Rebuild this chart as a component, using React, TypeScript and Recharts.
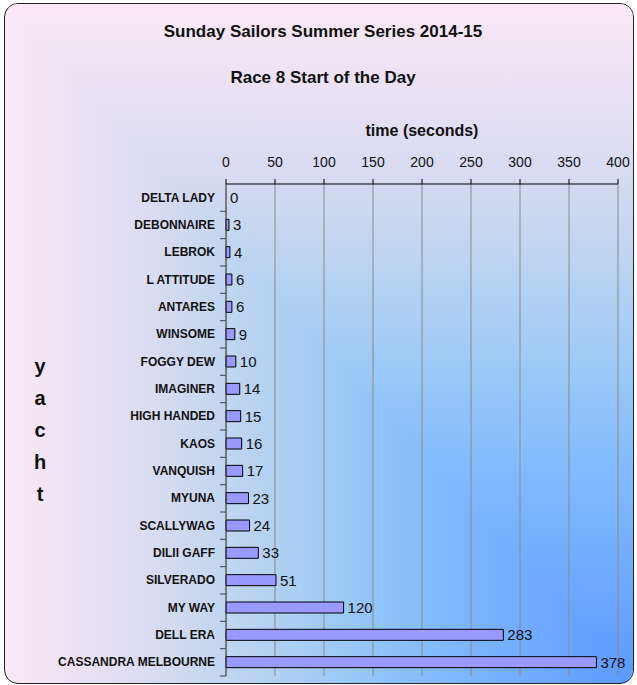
import React from 'react';
import {
  ComposedChart,
  Bar,
  Line,
  XAxis,
  YAxis,
  CartesianGrid,
  LabelList,
} from 'recharts';

const yachts = [
  'DELTA LADY',
  'DEBONNAIRE',
  'LEBROK',
  'L ATTITUDE',
  'ANTARES',
  'WINSOME',
  'FOGGY DEW',
  'IMAGINER',
  'HIGH HANDED',
  'KAOS',
  'VANQUISH',
  'MYUNA',
  'SCALLYWAG',
  'DILII GAFF',
  'SILVERADO',
  'MY WAY',
  'DELL ERA',
  'CASSANDRA MELBOURNE',
];
const startSeconds = [0, 3, 4, 6, 6, 9, 10, 14, 15, 16, 17, 23, 24, 33, 51, 120, 283, 378];
const timeTicks = [0, 50, 100, 150, 200, 250, 300, 350, 400];

const data = yachts.map((name, i) => ({ name, time: startSeconds[i] }));

const FONT = '"Liberation Sans", Arial, sans-serif';
const W = 637;
const H = 685;
const PLOT_LEFT = 226;
const PLOT_TOP = 184;
const PLOT_BOTTOM = 676;
const ROW = (PLOT_BOTTOM - PLOT_TOP) / yachts.length;

// colour runs from the bottom-right corner (blue) out to the edges (pink)
const STOPS =
  '#5b9aff 0%, #86bdfc 34%, #9fcaf5 48%, #c2d6f0 65%, #dcdcf2 78%, #fce8f7 100%';

function YachtTick(props: any) {
  const { x, y, payload } = props;
  return (
    <g>
      <text
        x={x}
        y={y}
        dy={4}
        textAnchor="end"
        fontFamily={FONT}
        fontSize={12}
        fontWeight="bold"
        fill="#111"
      >
        {payload.value}
      </text>
      <line
        x1={PLOT_LEFT - 6}
        x2={PLOT_LEFT}
        y1={y + ROW / 2}
        y2={y + ROW / 2}
        stroke="#444"
      />
    </g>
  );
}

export default function App() {
  return (
    <div style={{ position: 'relative', width: W, height: H, fontFamily: FONT }}>
      <style>{`body{margin:0}`}</style>
      <div
        style={{
          position: 'absolute',
          left: 4,
          top: 3,
          width: 630,
          height: 681,
          boxSizing: 'border-box',
          border: '1.5px solid #222',
          borderRadius: 14,
          overflow: 'hidden',
          background: `linear-gradient(to left, ${STOPS})`,
        }}
      >
        <div
          style={{
            position: 'absolute',
            inset: 0,
            background: `linear-gradient(to top, ${STOPS})`,
            clipPath: 'polygon(0 0, 100% 0, 100% 100%)',
          }}
        />
      </div>

      <div style={{ position: 'absolute', left: 0, width: 646, top: 22, textAlign: 'center', fontSize: 17, fontWeight: 'bold', color: '#111' }}>
        Sunday Sailors Summer Series 2014-15
      </div>
      <div style={{ position: 'absolute', left: 0, width: 646, top: 68, textAlign: 'center', fontSize: 17, fontWeight: 'bold', color: '#111' }}>
        Race 8 Start of the Day
      </div>
      <div style={{ position: 'absolute', left: PLOT_LEFT, width: 392, top: 122, textAlign: 'center', fontSize: 16, fontWeight: 'bold', color: '#111' }}>
        time (seconds)
      </div>
      <div style={{ position: 'absolute', left: 28, width: 24, top: 350, textAlign: 'center', fontSize: 20, fontWeight: 'bold', lineHeight: '32px', color: '#111' }}>
        {'yacht'.split('').map((c, i) => (
          <div key={i}>{c}</div>
        ))}
      </div>

      <div style={{ position: 'absolute', left: 0, top: 0 }}>
        <ComposedChart
          width={W}
          height={H}
          data={data}
          layout="vertical"
          margin={{ top: PLOT_TOP - 30, right: 19, left: 0, bottom: H - PLOT_BOTTOM }}
        >
          <CartesianGrid horizontal={false} stroke="#8a8a8a" />
          <XAxis
            type="number"
            orientation="top"
            domain={[0, 400]}
            ticks={timeTicks}
            height={30}
            tickSize={5}
            tickMargin={12}
            axisLine={{ stroke: '#000' }}
            tickLine={{ stroke: '#000' }}
            tick={{ fill: '#111', fontSize: 14, fontFamily: FONT }}
          />
          <XAxis
            xAxisId="b"
            type="number"
            orientation="bottom"
            domain={[0, 400]}
            height={0}
            tick={false}
            tickLine={false}
            axisLine={{ stroke: '#8a8a8a' }}
          />
          <YAxis
            type="category"
            dataKey="name"
            width={PLOT_LEFT}
            tickSize={0}
            tickMargin={11}
            interval={0}
            axisLine={{ stroke: '#444' }}
            tickLine={false}
            tick={<YachtTick />}
          />
          <Bar
            dataKey="time"
            fill="#9999ff"
            stroke="#000"
            strokeWidth={1}
            barSize={11}
            isAnimationActive={false}
          />
          {/* invisible line only used to place the value labels (incl. the zero one) */}
          <Line
            dataKey="time"
            stroke="none"
            dot={false}
            activeDot={false}
            legendType="none"
            isAnimationActive={false}
          >
            <LabelList
              dataKey="time"
              position="right"
              offset={4}
              fill="#111"
              fontSize={15}
              fontFamily={FONT}
            />
          </Line>
        </ComposedChart>
      </div>
    </div>
  );
}
